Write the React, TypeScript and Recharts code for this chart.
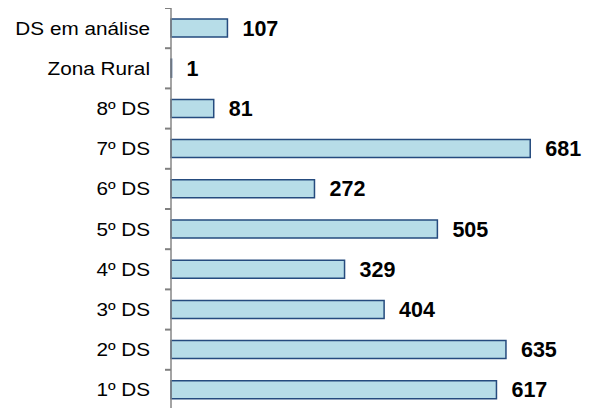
import React from "react";
import { BarChart, Bar, XAxis, YAxis, LabelList } from "recharts";

const categories = ["DS em análise", "Zona Rural", "8º DS", "7º DS", "6º DS", "5º DS", "4º DS", "3º DS", "2º DS", "1º DS"];
const values = [107, 1, 81, 681, 272, 505, 329, 404, 635, 617];

const data = categories.map((c, i) => ({ name: c, value: values[i] }));

const CHART_H = 420;
const MARGIN_TOP = 8;
const MARGIN_BOTTOM = 10;
const BAND = (CHART_H - MARGIN_TOP - MARGIN_BOTTOM) / categories.length;
const FONT = "'Liberation Sans', Arial, sans-serif";

const CatTick = (props: any) => {
  const { y, payload } = props;
  const axisX = 171;
  return (
    <g>
      <path d={`M${axisX - 6},${y - BAND / 2}H${axisX}`} stroke="#808080" strokeWidth={2} fill="none" />
      <text
        transform={`translate(${axisX - 21},${y}) scale(1.12,1)`}
        x={0}
        y={0}
        dy={6.5}
        textAnchor="end"
        fontSize={18.5}
        fill="#000"
        fontFamily={FONT}
      >
        {payload.value}
      </text>
    </g>
  );
};

export default function App() {
  return (
    <div style={{ margin: -8, background: "#fff" }}>
      <BarChart
        width={593}
        height={CHART_H}
        data={data}
        layout="vertical"
        margin={{ top: MARGIN_TOP, right: 0, bottom: MARGIN_BOTTOM, left: 0 }}
      >
        <XAxis type="number" domain={[0, 800]} hide />
        <YAxis
          type="category"
          dataKey="name"
          width={171}
          axisLine={{ stroke: "#868686", strokeWidth: 1.5 }}
          tickLine={false}
          tick={<CatTick />}
          interval={0}
        />
        <Bar dataKey="value" fill="#b7dde8" stroke="#254b7e" strokeWidth={1.5} barSize={18} isAnimationActive={false}>
          <LabelList
            dataKey="value"
            position="right"
            offset={15}
            fill="#000"
            fontSize={21.5}
            fontWeight="bold"
            fontFamily={FONT}
          />
        </Bar>
      </BarChart>
    </div>
  );
}
